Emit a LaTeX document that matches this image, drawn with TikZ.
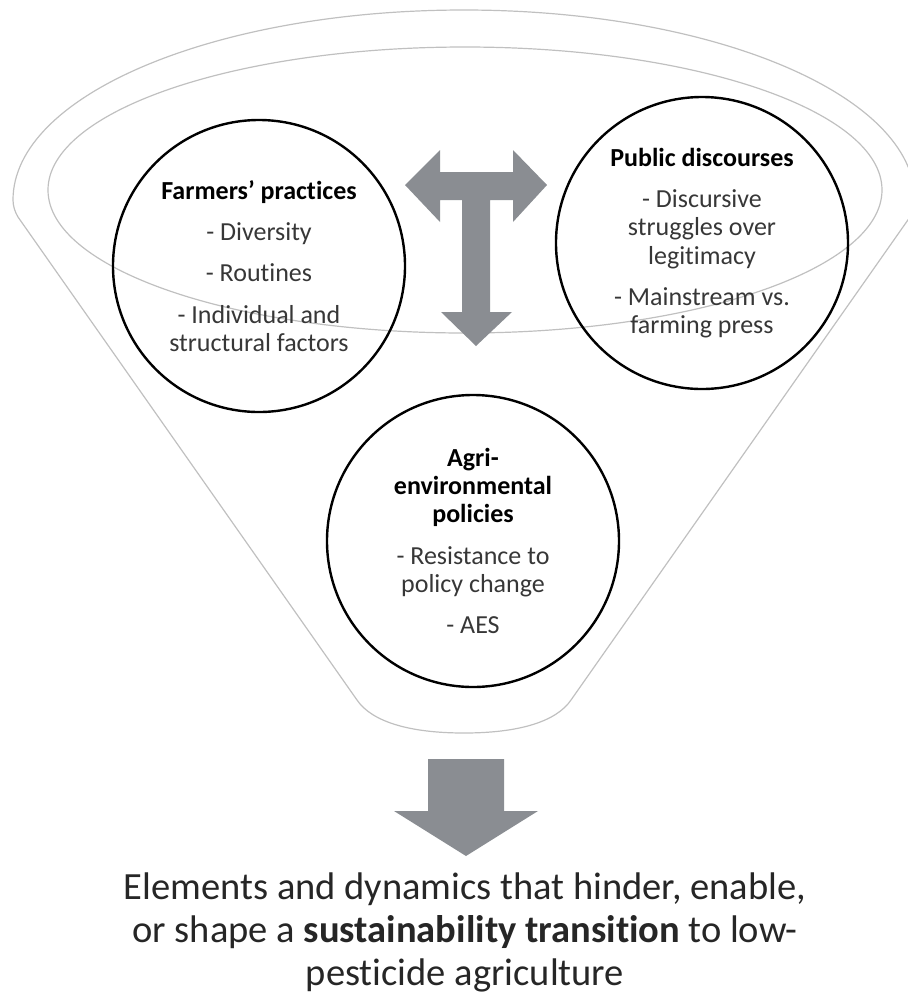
\documentclass[tikz,border=0pt]{standalone}
\usepackage{fontspec}
\setmainfont{Carlito}[Ligatures=NoCommon, RawFeature={-clig}]
\definecolor{funnelgray}{RGB}{192,192,192}
\definecolor{arrowgray}{RGB}{138,141,146}
\definecolor{bodytext}{RGB}{55,55,55}
\tikzset{
  funnelline/.style={draw=funnelgray, line width=1.2pt},
  topic/.style={circle, draw=black, line width=2.4pt, minimum size=292pt, inner sep=0pt,
    align=center, text=bodytext, font=\fontsize{26}{28.3}\selectfont},
  bigarrow/.style={fill=arrowgray, draw=none}
}
\begin{document}
\begin{tikzpicture}[x=1pt,y=1pt]
\useasboundingbox (0,0) rectangle (908,-997);
% funnel
\draw[funnelline] (18,-217) -- (357,-700)
  .. controls (372,-722) and (410,-733) .. (464,-733)
  .. controls (518,-733) and (556,-722) .. (571,-700)
  -- (910,-217) .. controls (913,-212) and (915,-206) .. (915,-200)
  arc[start angle=0, end angle=180, x radius=451, y radius=190]
  .. controls (13,-206) and (15,-212) .. (18,-217) -- cycle;
\draw[funnelline] (465,-190) ellipse[x radius=417, y radius=143];
% T arrow
\fill[bigarrow] (405,-185) -- (440,-150) -- (440,-172) -- (513,-172) -- (513,-150)
  -- (547,-185) -- (513,-222) -- (513,-200) -- (490,-200) -- (490,-312)
  -- (512,-312) -- (476,-346) -- (441,-312) -- (462,-312) -- (462,-200)
  -- (440,-200) -- (440,-222) -- cycle;
% circles
\node[topic] (farmers) at (259,-266) {\textbf{\color{black}Farmers’ practices}\\[13pt]
  - Diversity\\[13pt] - Routines\\[13pt] - Individual and\\ structural factors};
\node[topic] (public) at (702,-243) {\textbf{\color{black}Public discourses}\\[13pt]
  - Discursive\\ struggles over\\ legitimacy\\[13pt] - Mainstream vs.\\ farming press};
\node[topic] (agri) at (473,-541) {\textbf{\color{black}Agri-}\\ \textbf{\color{black}environmental}\\ \textbf{\color{black}policies}\\[13pt]
  - Resistance to\\ policy change\\[13pt] - AES};
% bottom arrow
\coordinate (downtip) at (466,-856);
\fill[bigarrow] (428,-759) -- (504,-759) -- (504,-811) -- (538,-811) -- (downtip)
  -- (394,-811) -- (428,-811) -- cycle;
% result
\node[align=center, text=black!85, font=\fontsize{38.5}{43}\selectfont, inner sep=0pt] (result) at (465,-932)
  {Elements and dynamics that hinder, enable,\\ or shape a \textbf{sustainability transition} to low-\\ pesticide agriculture};
\end{tikzpicture}
\end{document}
